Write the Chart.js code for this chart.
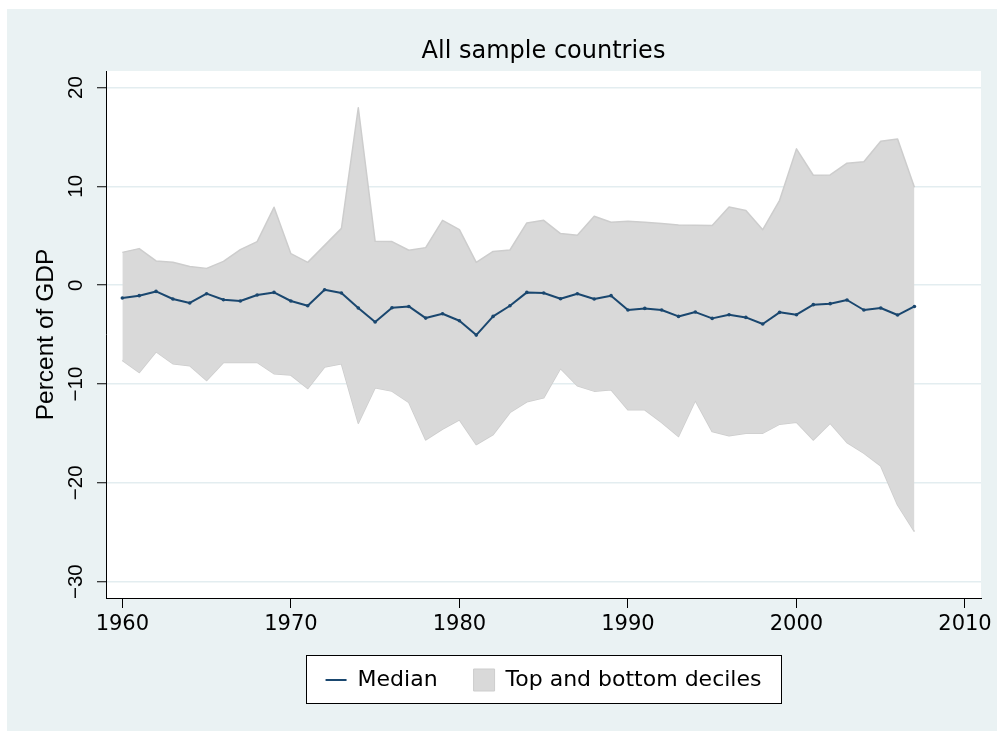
<!DOCTYPE html>
<html>
<head>
<meta charset="utf-8">
<script src="https://cdn.jsdelivr.net/npm/chart.js@4/dist/chart.umd.min.js"></script>
<style>
  html, body { margin: 0; padding: 0; background: #fff; }
  #wrap { width: 997px; height: 731px; }
</style>
</head>
<body>
<div id="wrap"><canvas id="chart" width="997" height="731"></canvas></div>
<script>
const years = [1960, 1961, 1962, 1963, 1964, 1965, 1966, 1967, 1968, 1969,
  1970, 1971, 1972, 1973, 1974, 1975, 1976, 1977, 1978, 1979,
  1980, 1981, 1982, 1983, 1984, 1985, 1986, 1987, 1988, 1989,
  1990, 1991, 1992, 1993, 1994, 1995, 1996, 1997, 1998, 1999,
  2000, 2001, 2002, 2003, 2004, 2005, 2006, 2007];

const median = [-1.30, -1.06, -0.63, -1.40, -1.80, -0.86, -1.47, -1.60, -0.99, -0.73,
  -1.60, -2.08, -0.46, -0.79, -2.31, -3.73, -2.28, -2.15, -3.33, -2.89,
  -3.60, -5.05, -3.16, -2.08, -0.73, -0.79, -1.37, -0.86, -1.40, -1.06,
  -2.51, -2.35, -2.51, -3.16, -2.72, -3.36, -2.99, -3.26, -3.93, -2.75,
  -2.99, -1.97, -1.87, -1.50, -2.51, -2.31, -3.02, -2.15];

const topDecile = [3.32, 3.70, 2.45, 2.31, 1.90, 1.70, 2.41, 3.60, 4.41, 7.88,
  3.19, 2.31, 4.03, 5.75, 17.95, 4.44, 4.41, 3.53, 3.80, 6.56,
  5.62, 2.31, 3.42, 3.56, 6.30, 6.56, 5.22, 5.05, 6.97, 6.36,
  6.46, 6.36, 6.23, 6.08, 6.06, 6.03, 7.92, 7.55, 5.62, 8.59,
  13.79, 11.12, 11.16, 12.34, 12.48, 14.56, 14.80, 9.90];

const bottomDecile = [-7.61, -8.83, -6.73, -7.95, -8.15, -9.64, -7.82, -7.82, -7.82, -8.96,
  -9.10, -10.45, -8.28, -7.95, -13.96, -10.38, -10.72, -11.87, -15.65, -14.56,
  -13.62, -16.12, -15.11, -12.88, -11.80, -11.39, -8.42, -10.18, -10.72, -10.58,
  -12.61, -12.61, -13.89, -15.31, -11.67, -14.81, -15.24, -14.97, -14.97, -14.06,
  -13.86, -15.65, -13.96, -15.92, -17.00, -18.28, -22.23, -24.93];

const xTicks = [1960, 1970, 1980, 1990, 2000, 2010];
const yTicks = [-30, -20, -10, 0, 10, 20];

const NAVY = '#1a476f';
const BAND = '#d9d9d9';
const BAND_EDGE = '#cdcdcd';
const PANEL = '#eaf2f3';
const GRID = '#e3edf0';

const points = vals => years.map((yr, i) => ({ x: yr, y: vals[i] }));

// background panel, white plot region and legend frame
const backdrop = {
  id: 'backdrop',
  beforeDraw(chart) {
    const { ctx, chartArea: a, legend } = chart;
    ctx.save();
    ctx.fillStyle = '#fff';
    ctx.fillRect(0, 0, chart.width, chart.height);
    ctx.fillStyle = PANEL;
    ctx.fillRect(7, 9, chart.width - 7, chart.height - 9);
    ctx.fillStyle = '#fff';
    ctx.fillRect(a.left, a.top, a.right - a.left, a.bottom - a.top);

    const hb = legend.legendHitBoxes;
    if (hb && hb.length) {
      const first = hb[0], last = hb[hb.length - 1];
      const cy = first.top + first.height / 2;
      const x0 = Math.round(first.left - 20) + 0.5;
      const x1 = Math.round(last.left + last.width + 20) + 0.5;
      const y0 = Math.round(cy - 25) + 0.5;
      const y1 = Math.round(cy + 23) + 0.5;
      ctx.fillStyle = '#fff';
      ctx.fillRect(x0, y0, x1 - x0, y1 - y0);
      ctx.strokeStyle = '#000';
      ctx.lineWidth = 1;
      ctx.strokeRect(x0, y0, x1 - x0, y1 - y0);
    }
    ctx.restore();
  }
};

new Chart(document.getElementById('chart'), {
  type: 'line',
  data: {
    datasets: [
      {
        label: 'Median',
        data: points(median),
        borderColor: NAVY,
        backgroundColor: NAVY,
        borderWidth: 2,
        borderJoinStyle: 'round',
        pointRadius: 1.8,
        pointBorderWidth: 0,
        pointBackgroundColor: NAVY,
        fill: false,
        tension: 0
      },
      {
        label: 'Top and bottom deciles',
        data: points(topDecile),
        borderColor: BAND_EDGE,
        backgroundColor: BAND,
        borderWidth: 1.5,
        borderJoinStyle: 'round',
        pointRadius: 0,
        fill: '+1',
        tension: 0
      },
      {
        label: 'lower',
        data: points(bottomDecile),
        borderColor: BAND_EDGE,
        backgroundColor: BAND,
        borderWidth: 1.5,
        borderJoinStyle: 'round',
        pointRadius: 0,
        fill: false,
        tension: 0
      }
    ]
  },
  options: {
    responsive: false,
    animation: false,
    layout: { padding: { left: 0, right: 16, top: 0, bottom: 30 } },
    plugins: {
      title: {
        display: true,
        text: 'All sample countries',
        fullSize: false,
        color: '#000',
        font: { family: 'DejaVu Sans', size: 24, weight: 'normal', lineHeight: 1.2 },
        padding: { top: 37.5, bottom: 4.7 }
      },
      legend: {
        position: 'bottom',
        fullSize: false,
        labels: {
          color: '#000',
          font: { family: 'DejaVu Sans', size: 22 },
          usePointStyle: true,
          pointStyleWidth: 21,
          boxHeight: 22,
          padding: 36,
          generateLabels(chart) {
            const items = Chart.defaults.plugins.legend.labels.generateLabels(chart);
            return items
              .filter(it => it.datasetIndex !== 2)
              .map(it => {
                if (it.datasetIndex === 0) {
                  it.pointStyle = 'line';
                  it.strokeStyle = NAVY;
                  it.lineWidth = 2;
                } else {
                  it.pointStyle = 'rect';
                  it.fillStyle = BAND;
                  it.strokeStyle = BAND_EDGE;
                  it.lineWidth = 1;
                }
                return it;
              });
          }
        }
      },
      tooltip: { enabled: false }
    },
    scales: {
      x: {
        type: 'linear',
        min: 1959.03,
        max: 2010.95,
        afterBuildTicks: s => { s.ticks = xTicks.map(v => ({ value: v })); },
        afterFit: s => { s.height = 35; },
        border: { display: true, color: '#000', width: 1 },
        grid: { drawOnChartArea: false, drawTicks: true, tickLength: 10, tickColor: '#000', tickWidth: 1 },
        ticks: {
          color: '#000',
          padding: 4,
          maxRotation: 0,
          font: { family: 'DejaVu Sans', size: 21 },
          callback: v => String(v)
        }
      },
      y: {
        min: -31.65,
        max: 21.67,
        afterBuildTicks: s => { s.ticks = yTicks.map(v => ({ value: v })); },
        afterFit: s => { s.width = 106; },
        border: { display: true, color: '#000', width: 1 },
        grid: { color: GRID, lineWidth: 1.5, drawTicks: true, tickLength: 9, tickColor: '#000', tickWidth: 1 },
        ticks: {
          color: '#000',
          padding: 3,
          minRotation: 90,
          maxRotation: 90,
          crossAlign: 'center',
          font: { family: 'Liberation Sans', size: 20.5 },
          callback: v => (v < 0 ? '\u2212' + (-v) : String(v))
        },
        title: {
          display: true,
          text: 'Percent of GDP',
          color: '#000',
          font: { family: 'Liberation Sans', size: 24.5, lineHeight: 1.2 },
          padding: { top: 32, bottom: 0 }
        }
      }
    }
  },
  plugins: [backdrop]
});
</script>
</body>
</html>
